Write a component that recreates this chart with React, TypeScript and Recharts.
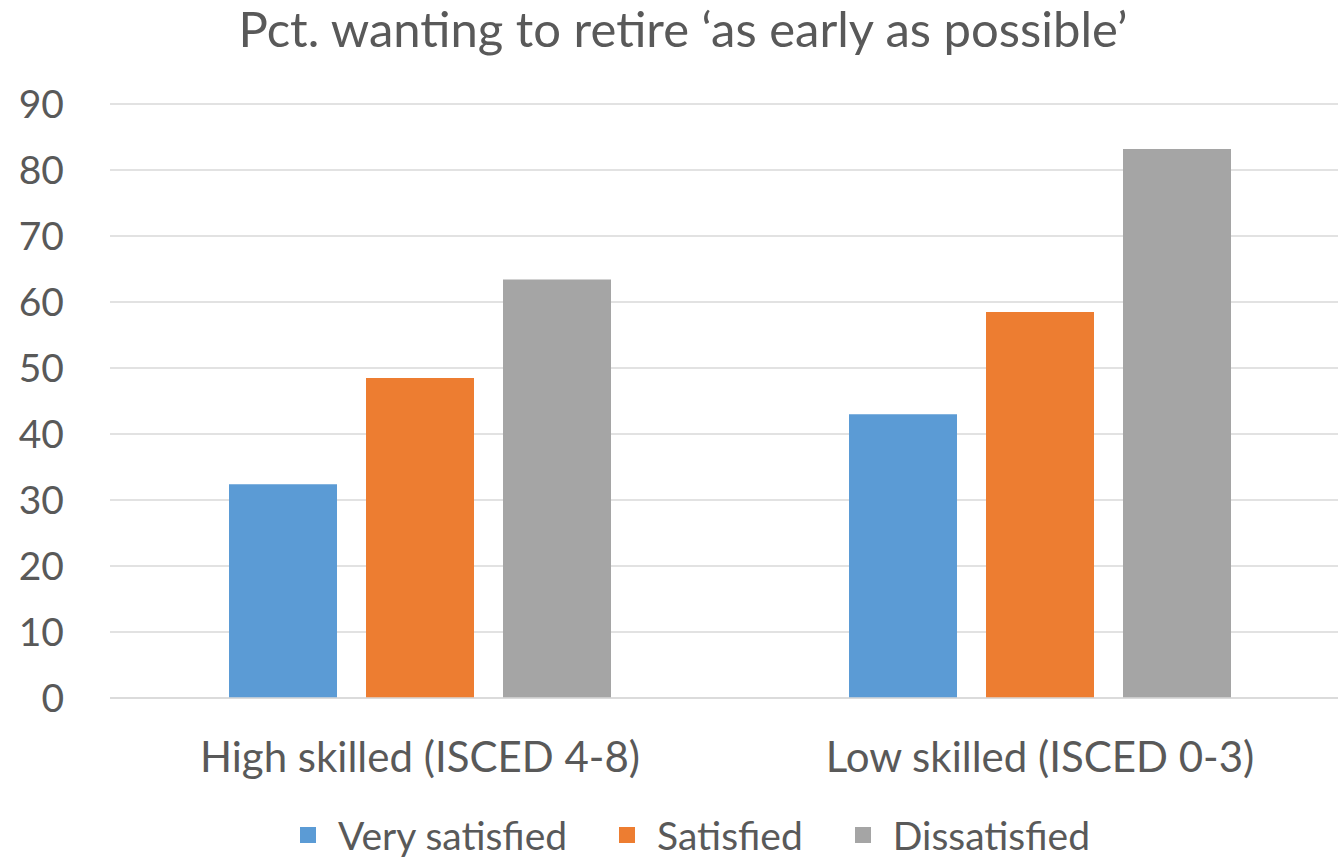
import { BarChart, Bar, XAxis, YAxis, CartesianGrid, Legend } from 'recharts'

const categories = ['High skilled (ISCED 4-8)', 'Low skilled (ISCED 0-3)']
const verySatisfied = [32.4, 43.0]
const satisfied = [48.5, 58.5]
const dissatisfied = [63.4, 83.2]
const yTicks = [0, 10, 20, 30, 40, 50, 60, 70, 80, 90]
const seriesOrder = ['Very satisfied', 'Satisfied', 'Dissatisfied']

const rows = categories.map((name, i) => ({
  name,
  verySatisfied: verySatisfied[i],
  satisfied: satisfied[i],
  dissatisfied: dissatisfied[i],
}))

const TEXT = '#595959'
const FONT = 'Lato, "Open Sans", sans-serif'

// legend drawn by hand so the spacing matches the excel look
const renderLegend = (props: any) => {
  const items = [...(props.payload || [])].sort(
    (a: any, b: any) => seriesOrder.indexOf(a.value) - seriesOrder.indexOf(b.value)
  )
  return (
    <div style={{ height: 61, display: 'flex', justifyContent: 'flex-start', alignItems: 'center', paddingLeft: 300, paddingTop: 12, boxSizing: 'border-box' }}>
      {items.map((it: any) => (
        <div key={it.value} style={{ display: 'flex', alignItems: 'center', marginRight: 52 }}>
          <span style={{ display: 'inline-block', width: 16, height: 16, background: it.color, marginRight: 22 }} />
          <span style={{ fontFamily: FONT, fontSize: 39, color: TEXT, lineHeight: '44px' }}>{it.value}</span>
        </div>
      ))}
    </div>
  )
}

export default function App() {
  return (
    <div style={{ position: 'absolute', left: 0, top: 0, width: 1338, height: 859, overflow: 'hidden', background: '#fff', fontFamily: FONT }}>
      <div style={{ position: 'absolute', top: 0, left: 0, width: 1366, textAlign: 'center', fontSize: 49, color: TEXT, lineHeight: '56px' }}>
        Pct. wanting to retire ‘as early as possible’
      </div>
      <BarChart width={1360} height={859} data={rows} margin={{ top: 104, right: 10, left: 0, bottom: 0 }} barSize={108} barGap={29}>
        <CartesianGrid vertical={false} stroke="#d9d9d9" strokeWidth={1.5} />
        <XAxis dataKey="name" axisLine={{ stroke: '#d9d9d9', strokeWidth: 1.5 }} tickLine={false} height={100} tickMargin={38}
          tick={{ fontSize: 42, fill: TEXT, fontFamily: FONT }} />
        <YAxis domain={[0, 90]} ticks={yTicks} axisLine={false} tickLine={false} width={110} tickMargin={40}
          tick={{ fontSize: 39, fill: TEXT, fontFamily: FONT }} />
        <Legend verticalAlign="bottom" content={renderLegend} />
        <Bar dataKey="verySatisfied" name="Very satisfied" fill="#5b9bd5" isAnimationActive={false} />
        <Bar dataKey="satisfied" name="Satisfied" fill="#ed7d31" isAnimationActive={false} />
        <Bar dataKey="dissatisfied" name="Dissatisfied" fill="#a5a5a5" isAnimationActive={false} />
      </BarChart>
    </div>
  )
}
